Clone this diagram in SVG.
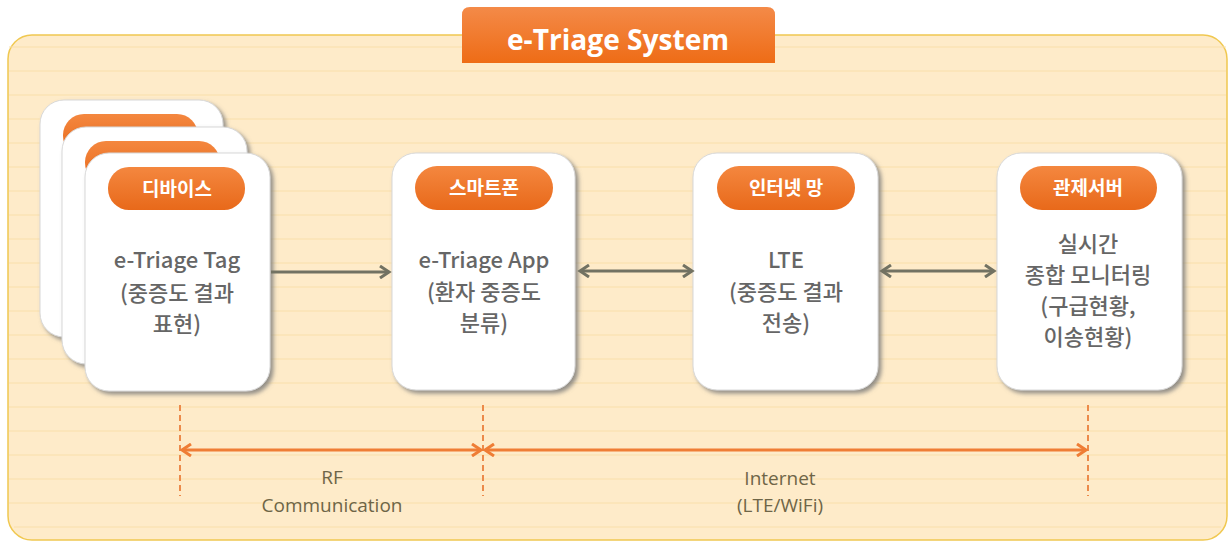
<svg xmlns="http://www.w3.org/2000/svg" width="1230" height="543" viewBox="0 0 1230 543">
<defs>
<style>
.card{fill:#ffffff;stroke:#d8d8d8;stroke-width:1;filter:url(#sh)}
.badge{fill:url(#og)}
.bt{font-family:"Noto Sans CJK KR",sans-serif;font-size:19px;font-weight:bold;fill:#ffffff;text-anchor:middle}
.ct{font-family:"Noto Sans CJK KR",sans-serif;font-size:22px;font-weight:500;fill:#666666;text-anchor:middle}
.lt{font-family:"Open Sans","Noto Sans CJK KR",sans-serif;font-size:19px;fill:#6e6547;text-anchor:middle}
.conn{stroke:#727262;stroke-width:3;fill:none}
.span{stroke:#ef7d35;stroke-width:3;fill:none}
.dash{stroke:#ec8a4a;stroke-width:2;stroke-dasharray:6 4;fill:none}
.rule{stroke:#f9dfaa;stroke-width:1}
</style>
<linearGradient id="og" x1="0" y1="0" x2="0" y2="1">
<stop offset="0" stop-color="#f4873f"/>
<stop offset="1" stop-color="#e8691a"/>
</linearGradient>
<linearGradient id="tg" x1="0" y1="0" x2="0" y2="1">
<stop offset="0" stop-color="#f48a48"/>
<stop offset="1" stop-color="#ee6c16"/>
</linearGradient>
<filter id="sh" x="-10%" y="-10%" width="125%" height="125%">
<feDropShadow dx="3" dy="3" stdDeviation="2" flood-color="#777777" flood-opacity="0.8"/>
</filter>
<marker id="ag" markerWidth="14" markerHeight="14" refX="11" refY="7" orient="auto-start-reverse" markerUnits="userSpaceOnUse">
<path d="M2,1 L11,7 L2,13" fill="none" stroke="#727262" stroke-width="3"/>
</marker>
<marker id="ao" markerWidth="14" markerHeight="14" refX="11" refY="7" orient="auto-start-reverse" markerUnits="userSpaceOnUse">
<path d="M2,1 L11,7 L2,13" fill="none" stroke="#ef7d35" stroke-width="3"/>
</marker>
</defs>
<rect width="1230" height="543" fill="#ffffff"/>
<g id="panel">
<rect x="8" y="35" width="1219" height="505" rx="24" fill="#feebc9" stroke="#f0c850" stroke-width="1.5"/>
<g class="rule">
<line x1="9" y1="47" x2="1226" y2="47"/><line x1="9" y1="71" x2="1226" y2="71"/><line x1="9" y1="95" x2="1226" y2="95"/><line x1="9" y1="119" x2="1226" y2="119"/><line x1="9" y1="143" x2="1226" y2="143"/><line x1="9" y1="167" x2="1226" y2="167"/><line x1="9" y1="191" x2="1226" y2="191"/><line x1="9" y1="215" x2="1226" y2="215"/><line x1="9" y1="239" x2="1226" y2="239"/><line x1="9" y1="263" x2="1226" y2="263"/><line x1="9" y1="287" x2="1226" y2="287"/><line x1="9" y1="311" x2="1226" y2="311"/><line x1="9" y1="335" x2="1226" y2="335"/><line x1="9" y1="359" x2="1226" y2="359"/><line x1="9" y1="383" x2="1226" y2="383"/><line x1="9" y1="407" x2="1226" y2="407"/><line x1="9" y1="431" x2="1226" y2="431"/><line x1="9" y1="455" x2="1226" y2="455"/><line x1="9" y1="479" x2="1226" y2="479"/><line x1="9" y1="503" x2="1226" y2="503"/><line x1="14" y1="527" x2="1221" y2="527"/>
</g>
</g>
<g id="title">
<path d="M462,63 L462,15 Q462,7 470,7 L767,7 Q775,7 775,15 L775,63 Z" fill="url(#tg)"/>
<text x="618" y="50" font-family="Open Sans,sans-serif" font-size="29" font-weight="bold" fill="#ffffff" text-anchor="middle" textLength="222" lengthAdjust="spacingAndGlyphs">e-Triage System</text>
</g>
<g id="device">
<rect class="card" x="40" y="100" width="183" height="237" rx="24"/>
<rect class="badge" x="63" y="114" width="135" height="43" rx="21"/>
<rect class="card" x="62" y="127" width="185" height="237" rx="24"/>
<rect class="badge" x="85" y="141" width="135" height="43" rx="21"/>
<rect class="card" x="85" y="153" width="185" height="238" rx="24"/>
<rect class="badge" x="108" y="167" width="137" height="43" rx="21"/>
<text class="bt" x="177" y="196">디바이스</text>
<text class="ct" x="177" y="268">e-Triage Tag</text>
<text class="ct" x="177" y="301">(중증도 결과</text>
<text class="ct" x="177" y="332">표현)</text>
</g>
<g id="smartphone">
<rect class="card" x="392" y="153" width="183" height="237" rx="24"/>
<rect class="badge" x="415" y="166" width="138" height="44" rx="22"/>
<text class="bt" x="484" y="195">스마트폰</text>
<text class="ct" x="484" y="268">e-Triage App</text>
<text class="ct" x="484" y="300">(환자 중증도</text>
<text class="ct" x="484" y="331">분류)</text>
</g>
<g id="lte">
<rect class="card" x="693" y="153" width="185" height="237" rx="24"/>
<rect class="badge" x="717" y="166" width="138" height="44" rx="22"/>
<text class="bt" x="786" y="195">인터넷 망</text>
<text class="ct" x="786" y="268">LTE</text>
<text class="ct" x="786" y="300">(중증도 결과</text>
<text class="ct" x="786" y="331">전송)</text>
</g>
<g id="server">
<rect class="card" x="997" y="153" width="185" height="237" rx="24"/>
<rect class="badge" x="1020" y="166" width="137" height="44" rx="22"/>
<text class="bt" x="1088" y="195">관제서버</text>
<text class="ct" x="1088" y="252">실시간</text>
<text class="ct" x="1088" y="283">종합 모니터링</text>
<text class="ct" x="1088" y="314">(구급현황,</text>
<text class="ct" x="1088" y="345">이송현황)</text>
</g>
<g id="connectors">
<line class="conn" x1="271" y1="272" x2="389" y2="272" marker-end="url(#ag)"/>
<line class="conn" x1="580" y1="271" x2="692" y2="271" marker-start="url(#ag)" marker-end="url(#ag)"/>
<line class="conn" x1="882" y1="271" x2="994" y2="271" marker-start="url(#ag)" marker-end="url(#ag)"/>
<line class="dash" x1="180" y1="405" x2="180" y2="496"/>
<line class="dash" x1="483" y1="405" x2="483" y2="496"/>
<line class="dash" x1="1088" y1="405" x2="1088" y2="496"/>
<line class="span" x1="182" y1="450" x2="481" y2="450" marker-start="url(#ao)" marker-end="url(#ao)"/>
<line class="span" x1="485" y1="450" x2="1086" y2="450" marker-start="url(#ao)" marker-end="url(#ao)"/>
<text class="lt" x="332" y="484">RF</text>
<text class="lt" x="332" y="512">Communication</text>
<text class="lt" x="780" y="485">Internet</text>
<text class="lt" x="780" y="512">(LTE/WiFi)</text>
</g>
</svg>
